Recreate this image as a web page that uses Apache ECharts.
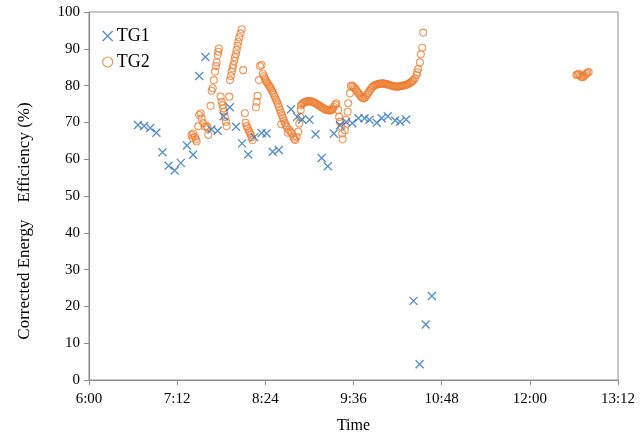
<!DOCTYPE html>
<html>
<head>
<meta charset="utf-8">
<script src="https://cdn.jsdelivr.net/npm/echarts@6/dist/echarts.min.js"></script>
<style>
  html, body { margin: 0; padding: 0; background: #fff; }
  #chart { width: 643px; height: 435px; }
</style>
</head>
<body>
<div id="chart"></div>
<script>
// Time axis ticks (every 72 minutes from 6:00 to 13:12)
const timeTicks = ['6:00', '7:12', '8:24', '9:36', '10:48', '12:00', '13:12'];
const yTitle = 'Corrected Energy    Efficiency (%)';

// TG1: five-minute readings
const tg1Times = [
  '6:40', '6:45', '6:50', '6:55', '7:00', '7:05', '7:10', '7:15', '7:20', '7:25',
  '7:30', '7:35', '7:40', '7:45', '7:50', '7:55', '8:00', '8:05', '8:10', '8:15',
  '8:21', '8:25', '8:30', '8:35', '8:45', '8:50', '8:54', '9:00', '9:05', '9:10',
  '9:15', '9:20', '9:25', '9:30', '9:35', '9:40', '9:45', '9:49', '9:55', '9:59',
  '10:04', '10:10', '10:14', '10:19', '10:25', '10:30', '10:35', '10:40'
];
const tg1Values = [
  69.3, 69.0, 68.5, 67.2, 61.9, 58.2, 56.9, 59.0, 63.7, 61.2,
  82.6, 87.8, 68.1, 67.7, 71.7, 74.1, 68.8, 64.3, 61.3, 66.0,
  67.1, 67.0, 62.0, 62.5, 73.6, 71.5, 70.8, 70.7, 66.8, 60.3,
  58.1, 67.0, 69.2, 70.1, 69.8, 71.1, 71.1, 70.7, 69.9, 71.1,
  71.7, 70.5, 70.2, 70.8, 21.5, 4.3, 15.1, 22.8
];

// TG2: logged readings
const tg2Times = [
  '7:23:50', '7:24:30', '7:25:06', '7:26:30', '7:27:18', '7:27:54',
  '7:29:12', '7:30:00', '7:31:12', '7:32:00', '7:33:18', '7:34:42', '7:36:06', '7:36:54', '7:37:24',
  '7:39:18', '7:40:12', '7:41:00', '7:42:00', '7:42:54', '7:43:42', '7:44:12', '7:45:06', '7:45:30', '7:46:06',
  '7:47:30', '7:48:18', '7:49:06', '7:49:36', '7:50:12', '7:51:00', '7:51:48', '7:52:24', '7:54:30',
  '7:55:06', '7:55:54', '7:56:30', '7:57:18', '7:57:48', '7:58:36', '7:59:12', '8:00:00', '8:00:36',
  '8:01:24', '8:01:54', '8:02:42', '8:03:48', '8:04:42', '8:05:54',
  '8:07:18', '8:07:54', '8:08:42', '8:09:36', '8:10:36', '8:11:24', '8:12:12', '8:12:48', '8:13:36',
  '8:16:18', '8:16:54', '8:17:42', '8:18:48', '8:19:36', '8:21:00',
  '8:22:00', '8:22:54', '8:23:42', '8:24:30', '8:25:18', '8:26:06', '8:26:54', '8:27:48', '8:28:36',
  '8:29:24', '8:30:12', '8:31:00', '8:31:48', '8:32:42', '8:33:30', '8:34:18', '8:35:06', '8:35:54',
  '8:36:42', '8:37:00', '8:37:36', '8:38:24', '8:39:12', '8:40:00', '8:40:48', '8:41:36', '8:42:30',
  '8:43:18', '8:44:30', '8:45:42', '8:46:48', '8:47:36', '8:48:24', '8:49:36', '8:50:54', '8:51:42',
  '8:52:24', '8:52:54',
  '8:53', '8:54', '8:55', '8:56', '8:57', '8:58', '8:59', '9:00', '9:01', '9:02',
  '9:03', '9:04', '9:05', '9:06', '9:07', '9:08', '9:09', '9:10', '9:11', '9:12',
  '9:13', '9:14', '9:15', '9:16', '9:17', '9:18', '9:19', '9:20', '9:21', '9:22',
  '9:23:30', '9:24:18', '9:24:54', '9:26:18', '9:26:48', '9:27:06',
  '9:29:00', '9:29:48', '9:31:12', '9:31:42', '9:33:06', '9:33:54',
  '9:35', '9:36', '9:37', '9:38', '9:39', '9:40', '9:41', '9:42', '9:43', '9:44',
  '9:45', '9:46', '9:47', '9:48', '9:49', '9:50', '9:51', '9:52', '9:53', '9:54',
  '9:55', '9:56', '9:57', '9:58', '9:59', '10:00', '10:01', '10:02', '10:03', '10:04',
  '10:05', '10:06', '10:07', '10:08', '10:09', '10:10', '10:11', '10:12', '10:13', '10:14',
  '10:15', '10:16', '10:17', '10:18', '10:19', '10:20', '10:21', '10:22', '10:23', '10:24',
  '10:25:00', '10:26:06', '10:27:30', '10:28:00', '10:28:48', '10:30:12', '10:31:00', '10:32:06', '10:32:54',
  '12:38', '12:39', '12:40', '12:41', '12:42', '12:43', '12:44', '12:45', '12:46', '12:47', '12:48'
];
const tg2Values = [
  66.6, 65.8, 67.0, 66.1, 65.4, 64.8,
  69.0, 72.0, 72.5, 71.1, 69.8, 68.8, 69.0, 68.7, 66.6,
  74.5, 78.6, 79.3, 81.5, 83.8, 85.3, 86.3, 88.3, 89.2, 90.1,
  77.0, 75.6, 74.7, 73.8, 72.9, 71.5, 70.2, 69.0, 77.0,
  81.5, 82.6, 83.8, 84.7, 85.6, 86.7, 87.7, 88.6, 89.7,
  90.8, 91.9, 93.1, 94.2, 95.3, 84.2,
  72.5, 69.9, 69.0, 68.4, 67.7, 67.2, 66.6, 65.9, 65.2,
  74.1, 75.6, 77.2, 81.5, 85.3, 85.6,
  83.2, 82.5, 81.9, 81.3, 80.9, 80.5, 80.0, 79.6, 79.2,
  78.6, 78.1, 77.5, 76.9, 76.2, 75.6, 74.9, 74.2, 73.4,
  72.7, 69.5, 72.0, 71.2, 70.5, 69.8, 69.2, 68.6, 67.2,
  68.0, 67.5, 67.0, 66.1, 65.5, 65.2, 66.1, 67.5, 69.7,
  71.5, 73.4,
  74.6, 75.0, 75.3, 75.4, 75.6, 75.7, 75.8, 75.7, 75.8, 75.6,
  75.5, 75.4, 75.2, 75.0, 74.8, 74.6, 74.3, 74.1, 73.9, 73.7,
  73.5, 73.4, 73.3, 73.3, 73.2, 73.4, 73.7, 74.2, 74.8, 75.2,
  73.4, 71.5, 70.2, 68.8, 67.0, 65.4,
  67.9, 70.7, 72.9, 75.2, 77.9, 79.9,
  80.0, 79.7, 79.3, 78.9, 78.4, 78.0, 77.5, 77.1, 76.7, 76.5,
  76.6, 77.0, 77.5, 78.0, 78.5, 79.0, 79.4, 79.8, 80.0, 80.2,
  80.3, 80.4, 80.5, 80.5, 80.6, 80.6, 80.5, 80.5, 80.4, 80.3,
  80.2, 80.1, 80.0, 79.9, 79.8, 79.8, 79.7, 79.7, 79.8, 79.8,
  79.9, 80.0, 80.0, 80.1, 80.2, 80.3, 80.5, 80.7, 80.9, 81.2,
  81.5, 82.0, 82.9, 83.6, 84.5, 86.3, 88.5, 90.3, 94.4,
  82.9, 83.0, 83.2, 82.8, 82.4, 82.3, 82.5, 82.8, 83.2, 83.5, 83.7
];

// "H:MM" or "H:MM:SS" -> minutes after midnight
function toMinutes(t) {
  const p = t.split(':').map(Number);
  return p[0] * 60 + p[1] + (p[2] || 0) / 60;
}
function pairs(times, values) {
  return times.map((t, i) => [toMinutes(t), values[i]]);
}

const AXIS_GREY = '#8e8e8e';
const FONT = '"Liberation Serif", "Times New Roman", serif';
const BLUE = '#2E76BF';
const ORANGE = '#ED7D31';
const CROSS = 'path://M0,0L10,10M10,0L0,10';

const chart = echarts.init(document.getElementById('chart'), null, { renderer: 'canvas' });
chart.setOption({
  animation: false,
  backgroundColor: '#fff',
  grid: {
    left: 89, right: 25, top: 12, bottom: 55,
    outerBoundsMode: 'none',
    containLabel: false,
    show: true, borderColor: AXIS_GREY, borderWidth: 1
  },
  legend: {
    orient: 'vertical',
    left: 97, top: 22,
    itemGap: 8,
    itemWidth: 12, itemHeight: 10,
    textStyle: { fontFamily: FONT, fontSize: 18, color: '#000', padding: [0, 0, 0, -2] },
    data: [
      { name: 'TG1', icon: CROSS, itemStyle: { color: 'rgba(0,0,0,0)', borderColor: BLUE, borderWidth: 1.4 } },
      { name: 'TG2', icon: 'circle', itemStyle: { color: 'rgba(0,0,0,0)', borderColor: ORANGE, borderWidth: 1.2 } }
    ]
  },
  graphic: [{
    type: 'text',
    x: 25, y: 221,
    rotation: Math.PI / 2,
    style: {
      text: yTitle,
      fontFamily: FONT, fontSize: 17, fill: '#000',
      align: 'center', verticalAlign: 'middle'
    }
  }],
  xAxis: {
    type: 'value',
    min: 360, max: 792, interval: 72,
    name: 'Time',
    nameLocation: 'middle',
    nameGap: 38,
    nameTextStyle: { fontFamily: FONT, fontSize: 16, color: '#000' },
    axisLine: { show: true, lineStyle: { color: AXIS_GREY, width: 1.2 } },
    axisTick: { show: true, inside: false, length: 5, lineStyle: { color: AXIS_GREY } },
    splitLine: { show: false },
    axisLabel: {
      fontFamily: FONT, fontSize: 15, color: '#000', margin: 12,
      formatter: v => timeTicks[Math.round((v - 360) / 72)] || ''
    }
  },
  yAxis: {
    type: 'value',
    min: 0, max: 100, interval: 10,
    axisLine: { show: true, lineStyle: { color: AXIS_GREY, width: 1.2 } },
    axisTick: { show: true, inside: false, length: 5, lineStyle: { color: AXIS_GREY } },
    splitLine: { show: false },
    axisLabel: { fontFamily: FONT, fontSize: 15, color: '#000', margin: 9 }
  },
  series: [
    {
      name: 'TG2',
      type: 'scatter',
      z: 2,
      symbol: 'circle',
      symbolSize: 7,
      itemStyle: { color: 'rgba(255,255,255,0)', borderColor: ORANGE, borderWidth: 1.1 },
      data: pairs(tg2Times, tg2Values)
    },
    {
      name: 'TG1',
      type: 'scatter',
      z: 3,
      symbol: CROSS,
      symbolSize: 8,
      itemStyle: { color: 'rgba(0,0,0,0)', borderColor: BLUE, borderWidth: 1.4 },
      data: pairs(tg1Times, tg1Values)
    }
  ]
});
</script>
</body>
</html>
